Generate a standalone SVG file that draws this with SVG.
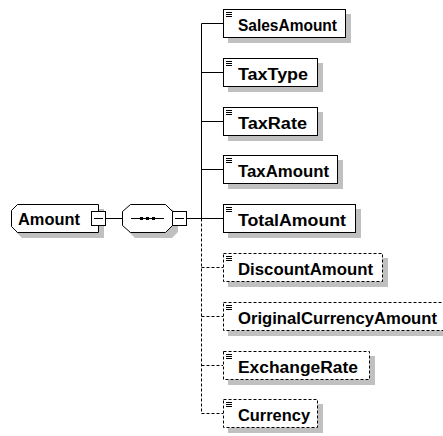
<svg xmlns="http://www.w3.org/2000/svg" width="443" height="436" viewBox="0 0 443 436">
<style>
.bg{fill:#fff}
.sh{fill:#c0c0c0;stroke:none}
.box{fill:#fff;stroke:#000;stroke-width:1}
.opt{fill:#fff;stroke:#000;stroke-width:1;stroke-dasharray:3,2}
.ln{stroke:#000;stroke-width:1;fill:none}
.dl{stroke:#000;stroke-width:1;fill:none;stroke-dasharray:3,2}
.t{font-family:"Liberation Sans",Arial,sans-serif;font-weight:bold;font-size:16px;fill:#000}
</style>
<defs>
<g id="ico"><path d="M3 3.5h6M3 5.5h6M3 7.5h6" stroke="#000" stroke-width="1" fill="none"/></g>
<g id="minus"><rect x="0.5" y="0.5" width="14" height="14" fill="#fff" stroke="#000"/><path d="M3 7.5h9" stroke="#000"/></g>
</defs>
<rect class="bg" width="443" height="436"/>
<g id="connectors">
<path class="ln" d="M106 218.5H122M187 218.5H201.5M201.5 23.5V218.5"/>
<path class="dl" d="M201.5 218.5V413.5"/>
<path class="ln" d="M201.5 23.5H223M201.5 72.5H223M201.5 121.5H223M201.5 169.5H223M201.5 218.5H223"/>
<path class="dl" d="M201.5 267.5H223M201.5 316.5H223M201.5 365.5H223M201.5 413.5H223"/>
</g>
<g id="Amount">
<path class="sh" d="M22 209H104V238H22L16 232V215Z"/>
<path class="box" d="M17.5 204.5H98.5V232.5H17.5L11.5 226.5V210.5Z"/>
<text class="t" x="18" y="225" textLength="62" lengthAdjust="spacingAndGlyphs">Amount</text>
<use href="#minus" x="91" y="211"/>
</g>
<g id="sequence">
<path class="sh" d="M135 209H172L178 215V232L172 238H135L129 232V215Z"/>
<path class="box" d="M130.5 204.5H165.5L172.5 211.5V225.5L165.5 232.5H130.5L122.5 225.5V211.5Z"/>
<path class="ln" d="M131 218.5H164"/>
<rect x="140" y="217" width="3" height="3" fill="#000"/><rect x="146" y="217" width="3" height="3" fill="#000"/><rect x="152" y="217" width="3" height="3" fill="#000"/>
<use href="#minus" x="172" y="211"/>
</g>
<g id="SalesAmount">
<rect class="sh" x="228" y="14" width="123" height="29"/>
<rect class="box" x="223.5" y="9.5" width="122" height="28"/>
<use href="#ico" x="223" y="9"/>
<text class="t" x="238" y="30.5" textLength="99" lengthAdjust="spacingAndGlyphs">SalesAmount</text>
</g>
<g id="TaxType">
<rect class="sh" x="228" y="63" width="95" height="29"/>
<rect class="box" x="223.5" y="58.5" width="94" height="28"/>
<use href="#ico" x="223" y="58"/>
<text class="t" x="238" y="79.5" textLength="70" lengthAdjust="spacingAndGlyphs">TaxType</text>
</g>
<g id="TaxRate">
<rect class="sh" x="228" y="112" width="95" height="29"/>
<rect class="box" x="223.5" y="107.5" width="94" height="28"/>
<use href="#ico" x="223" y="107"/>
<text class="t" x="238" y="128.5" textLength="69" lengthAdjust="spacingAndGlyphs">TaxRate</text>
</g>
<g id="TaxAmount">
<rect class="sh" x="228" y="160" width="115" height="29"/>
<rect class="box" x="223.5" y="155.5" width="114" height="28"/>
<use href="#ico" x="223" y="155"/>
<text class="t" x="238" y="176.5" textLength="91" lengthAdjust="spacingAndGlyphs">TaxAmount</text>
</g>
<g id="TotalAmount">
<rect class="sh" x="228" y="209" width="133" height="29"/>
<rect class="box" x="223.5" y="204.5" width="132" height="28"/>
<use href="#ico" x="223" y="204"/>
<text class="t" x="238" y="225.5" textLength="108" lengthAdjust="spacingAndGlyphs">TotalAmount</text>
</g>
<g id="DiscountAmount">
<rect class="sh" x="228" y="258" width="160" height="29"/>
<rect class="opt" x="223.5" y="253.5" width="159" height="28"/>
<use href="#ico" x="223" y="253"/>
<text class="t" x="238" y="274.5" textLength="135" lengthAdjust="spacingAndGlyphs">DiscountAmount</text>
</g>
<g id="OriginalCurrencyAmount">
<rect class="sh" x="228" y="307" width="225" height="29"/>
<rect class="opt" x="223.5" y="302.5" width="224" height="28"/>
<use href="#ico" x="223" y="302"/>
<text class="t" x="238" y="323.5" textLength="199" lengthAdjust="spacingAndGlyphs">OriginalCurrencyAmount</text>
</g>
<g id="ExchangeRate">
<rect class="sh" x="228" y="356" width="147" height="29"/>
<rect class="opt" x="223.5" y="351.5" width="146" height="28"/>
<use href="#ico" x="223" y="351"/>
<text class="t" x="238" y="372.5" textLength="120" lengthAdjust="spacingAndGlyphs">ExchangeRate</text>
</g>
<g id="Currency">
<rect class="sh" x="228" y="404" width="95" height="29"/>
<rect class="opt" x="223.5" y="399.5" width="94" height="28"/>
<use href="#ico" x="223" y="399"/>
<text class="t" x="238" y="420.5" textLength="72" lengthAdjust="spacingAndGlyphs">Currency</text>
</g>
</svg>
